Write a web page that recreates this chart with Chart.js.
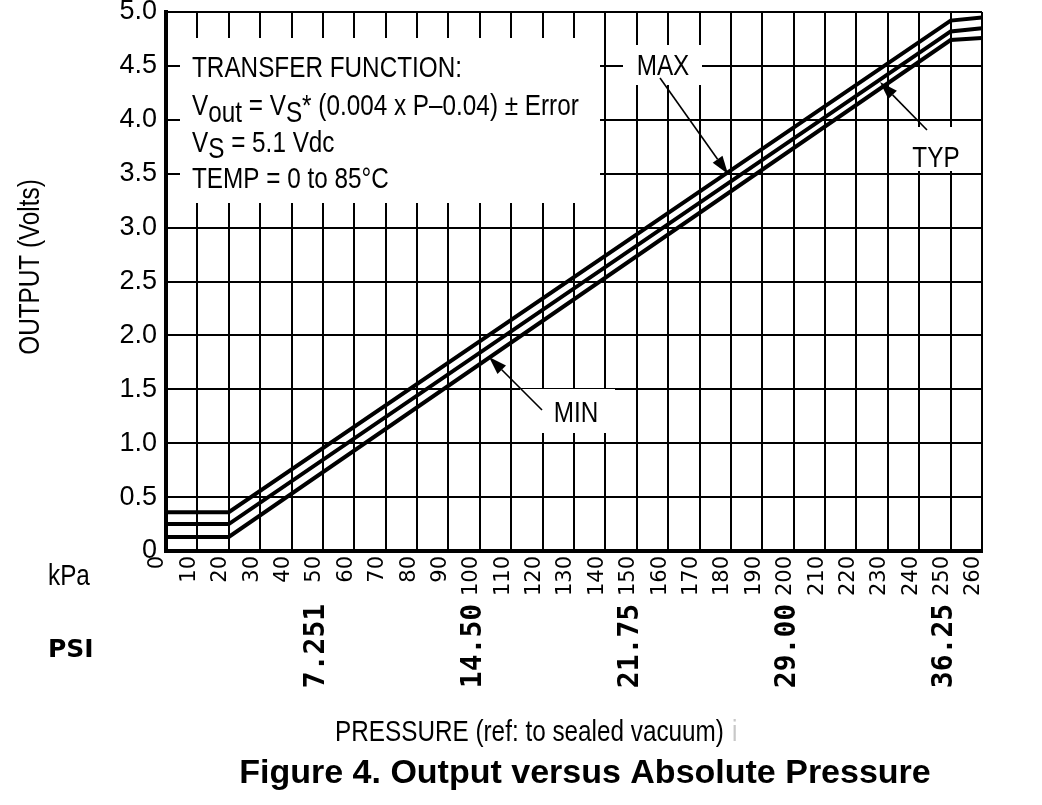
<!DOCTYPE html>
<html>
<head>
<meta charset="utf-8">
<script src="https://cdn.jsdelivr.net/npm/chart.js@4.4.1/dist/chart.umd.min.js"></script>
<style>
html,body{margin:0;padding:0;background:#fff;}
#wrap{width:1042px;height:805px;position:relative;}
canvas{display:block;}
</style>
</head>
<body>
<div id="wrap"><canvas id="c" width="1042" height="805"></canvas></div>
<script>
// ---- data ----
const pressureKpa = [0, 20, 250, 260];
const maxOutput = [0.36, 0.36, 4.92, 4.95];
const typOutput = [0.25, 0.25, 4.82, 4.85];
const minOutput = [0.13, 0.13, 4.74, 4.76];
const xTickLabels = ['0','10','20','30','40','50','60','70','80','90','100','110','120','130','140','150','160','170','180','190','200','210','220','230','240','250','260'];
const yTickLabels = ['0','0.5','1.0','1.5','2.0','2.5','3.0','3.5','4.0','4.5','5.0'];
const psiKpa = [50, 100, 150, 200, 250];
const psiLabels = ['7.251','14.50','21.75','29.00','36.25'];

const SX = 0.81;
function ctext(ctx, str, x, y, size, opts) {
  opts = opts || {};
  ctx.save();
  ctx.translate(x, y);
  if (opts.rot) ctx.rotate(opts.rot);
  ctx.scale(opts.sx || SX, 1);
  ctx.font = (opts.bold ? 'bold ' : '') + size + 'px "Liberation Sans", Arial, sans-serif';
  ctx.fillStyle = opts.color || '#000';
  ctx.textAlign = opts.align || 'left';
  ctx.textBaseline = opts.baseline || 'alphabetic';
  ctx.fillText(str, 0, 0);
  const w = ctx.measureText(str).width * (opts.sx || SX);
  ctx.restore();
  return w;
}
function arrow(ctx, x1, y1, x2, y2) {
  const a = Math.atan2(y2 - y1, x2 - x1);
  const L = 18, W = 6;
  const bx = x2 - L * Math.cos(a), by = y2 - L * Math.sin(a);
  ctx.save();
  ctx.strokeStyle = '#000'; ctx.fillStyle = '#000'; ctx.lineWidth = 1.6;
  ctx.beginPath(); ctx.moveTo(x1, y1); ctx.lineTo(bx, by); ctx.stroke();
  ctx.beginPath();
  ctx.moveTo(x2, y2);
  ctx.lineTo(bx + W * Math.sin(a), by - W * Math.cos(a));
  ctx.lineTo(bx - W * Math.sin(a), by + W * Math.cos(a));
  ctx.closePath(); ctx.fill();
  ctx.restore();
}

const annot = {
  id: 'annot',
  afterDatasetsDraw(chart) {
    const ctx = chart.ctx;
    ctx.save();
    ctx.fillStyle = '#fff';
    ctx.fillRect(180, 38, 420, 165);
    ctx.fillRect(623, 45, 79, 40);
    ctx.fillRect(897, 127, 76, 44);
    ctx.fillRect(520, 389, 95, 44);
    ctx.restore();
    // transfer function text
    const f = 30;
    ctext(ctx, 'TRANSFER FUNCTION:', 192, 77, f);
    let x = 192;
    x += ctext(ctx, 'V', x, 115, f);
    x += ctext(ctx, 'out', x, 122, f);
    x += ctext(ctx, ' = V', x, 115, f);
    x += ctext(ctx, 'S', x, 122, f);
    ctext(ctx, '* (0.004 x P\u20130.04) \u00B1 Error', x, 115, f);
    x = 192;
    x += ctext(ctx, 'V', x, 152, f);
    x += ctext(ctx, 'S', x, 158, f);
    ctext(ctx, ' = 5.1 Vdc', x, 152, f);
    ctext(ctx, 'TEMP = 0 to 85\u00B0C', 192, 188, f);
    // curve labels
    ctext(ctx, 'MAX', 663, 75, f, {align: 'center'});
    ctext(ctx, 'TYP', 936, 167, f, {align: 'center'});
    ctext(ctx, 'MIN', 576, 422, f, {align: 'center'});
    arrow(ctx, 660, 78, 728, 174);
    arrow(ctx, 927, 130, 880, 82);
    arrow(ctx, 542, 410, 489, 357);
    // axis titles
    ctext(ctx, 'OUTPUT (Volts)', 31, 267, f, {rot: -Math.PI / 2, align: 'center', baseline: 'middle'});
    ctext(ctx, 'kPa', 48, 585, f);
    ctx.save();
    ctx.font = 'bold 25px "DejaVu Sans"';
    ctx.fillStyle = '#000';
    ctx.textBaseline = 'alphabetic';
    ctx.fillText('PSI', 48, 657);
    ctx.restore();
    // PSI secondary labels
    const xs = chart.scales.x;
    ctx.save();
    ctx.font = 'bold 28px "DejaVu Sans Mono"';
    ctx.fillStyle = '#000';
    ctx.textAlign = 'center';
    ctx.textBaseline = 'middle';
    psiKpa.forEach((k, i) => {
      ctx.save();
      ctx.translate(xs.getPixelForValue(k) - 6, 646);
      ctx.rotate(-Math.PI / 2);
      ctx.fillText(psiLabels[i], 0, 0);
      ctx.restore();
    });
    ctx.restore();
    const pw = ctext(ctx, 'PRESSURE (ref: to sealed vacuum)', 335, 741, f);
    ctext(ctx, 'i', 335 + pw + 8, 741, f, {color: '#c8c8c8'});
    ctext(ctx, 'Figure 4. Output versus Absolute Pressure', 585, 783, 34, {bold: true, sx: 1, align: 'center'});
  }
};

const mk = (arr) => pressureKpa.map((p, i) => ({x: p, y: arr[i]}));
const ds = (label, arr) => ({label, data: mk(arr), borderColor: '#000', borderWidth: 4, pointRadius: 0, tension: 0, fill: false, borderJoinStyle: 'miter'});

new Chart(document.getElementById('c'), {
  type: 'line',
  data: { datasets: [ds('MAX', maxOutput), ds('TYP', typOutput), ds('MIN', minOutput)] },
  options: {
    responsive: false,
    animation: false,
    devicePixelRatio: 1,
    layout: { padding: { top: 12, right: 60, left: 0, bottom: 0 } },
    plugins: { legend: { display: false }, tooltip: { enabled: false } },
    scales: {
      x: {
        type: 'linear', min: 0, max: 260,
        afterFit(s) { s.height = 254; s.paddingLeft = 0; s.paddingRight = 0; },
        border: { display: true, color: '#000', width: 4 },
        grid: { color: '#000', lineWidth: 2, drawTicks: false },
        ticks: {
          stepSize: 10, autoSkip: false, minRotation: 90, maxRotation: 90,
          labelOffset: -8, padding: 5, color: '#000',
          font: { family: '"DejaVu Sans"', size: 21 },
          callback: (v, i) => xTickLabels[i]
        }
      },
      y: {
        type: 'linear', min: 0, max: 5,
        afterFit(s) { s.width = 166; s.paddingTop = 0; s.paddingBottom = 0; },
        border: { display: true, color: '#000', width: 4 },
        grid: { color: '#000', lineWidth: 2, drawTicks: false },
        ticks: {
          stepSize: 0.5, autoSkip: false, padding: 9, color: '#000',
          font: { family: '"Liberation Sans"', size: 27 },
          callback: (v, i) => yTickLabels[i]
        }
      }
    }
  },
  plugins: [annot]
});
</script>
</body>
</html>
